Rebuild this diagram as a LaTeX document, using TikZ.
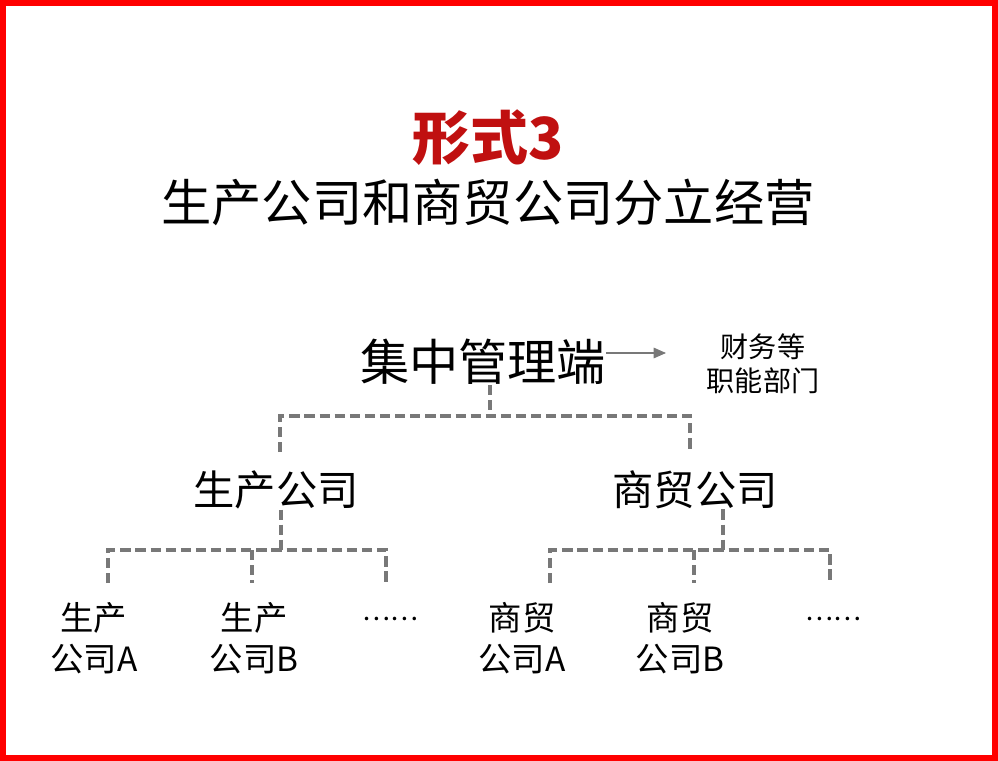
\documentclass[tikz,border=0pt]{standalone}
\usepackage{fontspec}
\setmainfont{Noto Sans CJK SC}
\usetikzlibrary{
    arrows.meta,
    positioning
}
\definecolor{TitleRed}{RGB}{192,16,16}
\definecolor{FrameRed}{RGB}{255,0,0}
\definecolor{LinkGray}{RGB}{120,120,120}

\begin{document}
\begin{tikzpicture}[
    x=0.02cm, y=-0.02cm,
    >=Latex,
    link/.style={draw=LinkGray, line width=2pt, dash pattern=on 5.8pt off 2.8pt},
    leaf/.style={align=center, font=\fontsize{19}{23}\selectfont, inner sep=0pt},
    dots/.style={font=\fontsize{15}{18}\selectfont, inner sep=0pt}
]

% Frame
\useasboundingbox (0,0) rectangle (998,761);
\draw[FrameRed, line width=3pt]
    (3,3) rectangle (995,758);

% Title
\node[font=\fontsize{33}{38}\selectfont\bfseries, text=TitleRed] (title)
    at (488,138) {形式3};
\node[font=\fontsize{28.6}{32}\selectfont] (subtitle)
    at (488,202) {生产公司和商贸公司分立经营};

% Top level
\node[font=\fontsize{28}{32}\selectfont, inner sep=0pt] (mgmt)
    at (483,362) {集中管理端};
\node[align=center, font=\fontsize{16}{19.3}\selectfont, inner sep=0pt] (finance)
    at (763,364) {财务等\\职能部门};

% Second level
\node[font=\fontsize{23.5}{28}\selectfont, inner sep=0pt] (prod)
    at (276,490) {生产公司};
\node[font=\fontsize{23.5}{28}\selectfont, inner sep=0pt] (trade)
    at (695,490) {商贸公司};

% Leaves
\node[leaf] (prodA) at (94,638) {生产\\公司A};
\node[leaf] (prodB) at (254,638) {生产\\公司B};
\node[dots] (prodC) at (390,619) {……};
\node[leaf] (tradeA) at (522,638) {商贸\\公司A};
\node[leaf] (tradeB) at (680,638) {商贸\\公司B};
\node[dots] (tradeC) at (833,619) {……};

% Arrow to finance
\coordinate (arrE) at (666,353);
\draw[->, LinkGray, line width=0.6pt, >={Triangle[length=7pt,width=6pt]}]
    (mgmt.east |- arrE) -- (arrE);

% Links, level one
\coordinate (busM) at (490,416);
\coordinate (dropP) at (280,452);
\coordinate (dropT) at (690,452);
\draw[link] (mgmt.south -| busM) -- (busM);
\draw[link] (dropP) |- (busM) -| (dropT);

% Links, production side
\coordinate (busP) at (281,550);
\draw[link] (prod.south -| busP) -- (busP);
\draw[link] (108,583) |- (386,550) -- (386,583);
\draw[link] (252,550) -- (252,583);

% Links, trade side
\coordinate (busT) at (723,550);
\draw[link] (trade.south -| busT) -- (busT);
\draw[link] (550,583) |- (830,550) -- (830,583);
\draw[link] (694,550) -- (694,583);

\end{tikzpicture}
\end{document}
